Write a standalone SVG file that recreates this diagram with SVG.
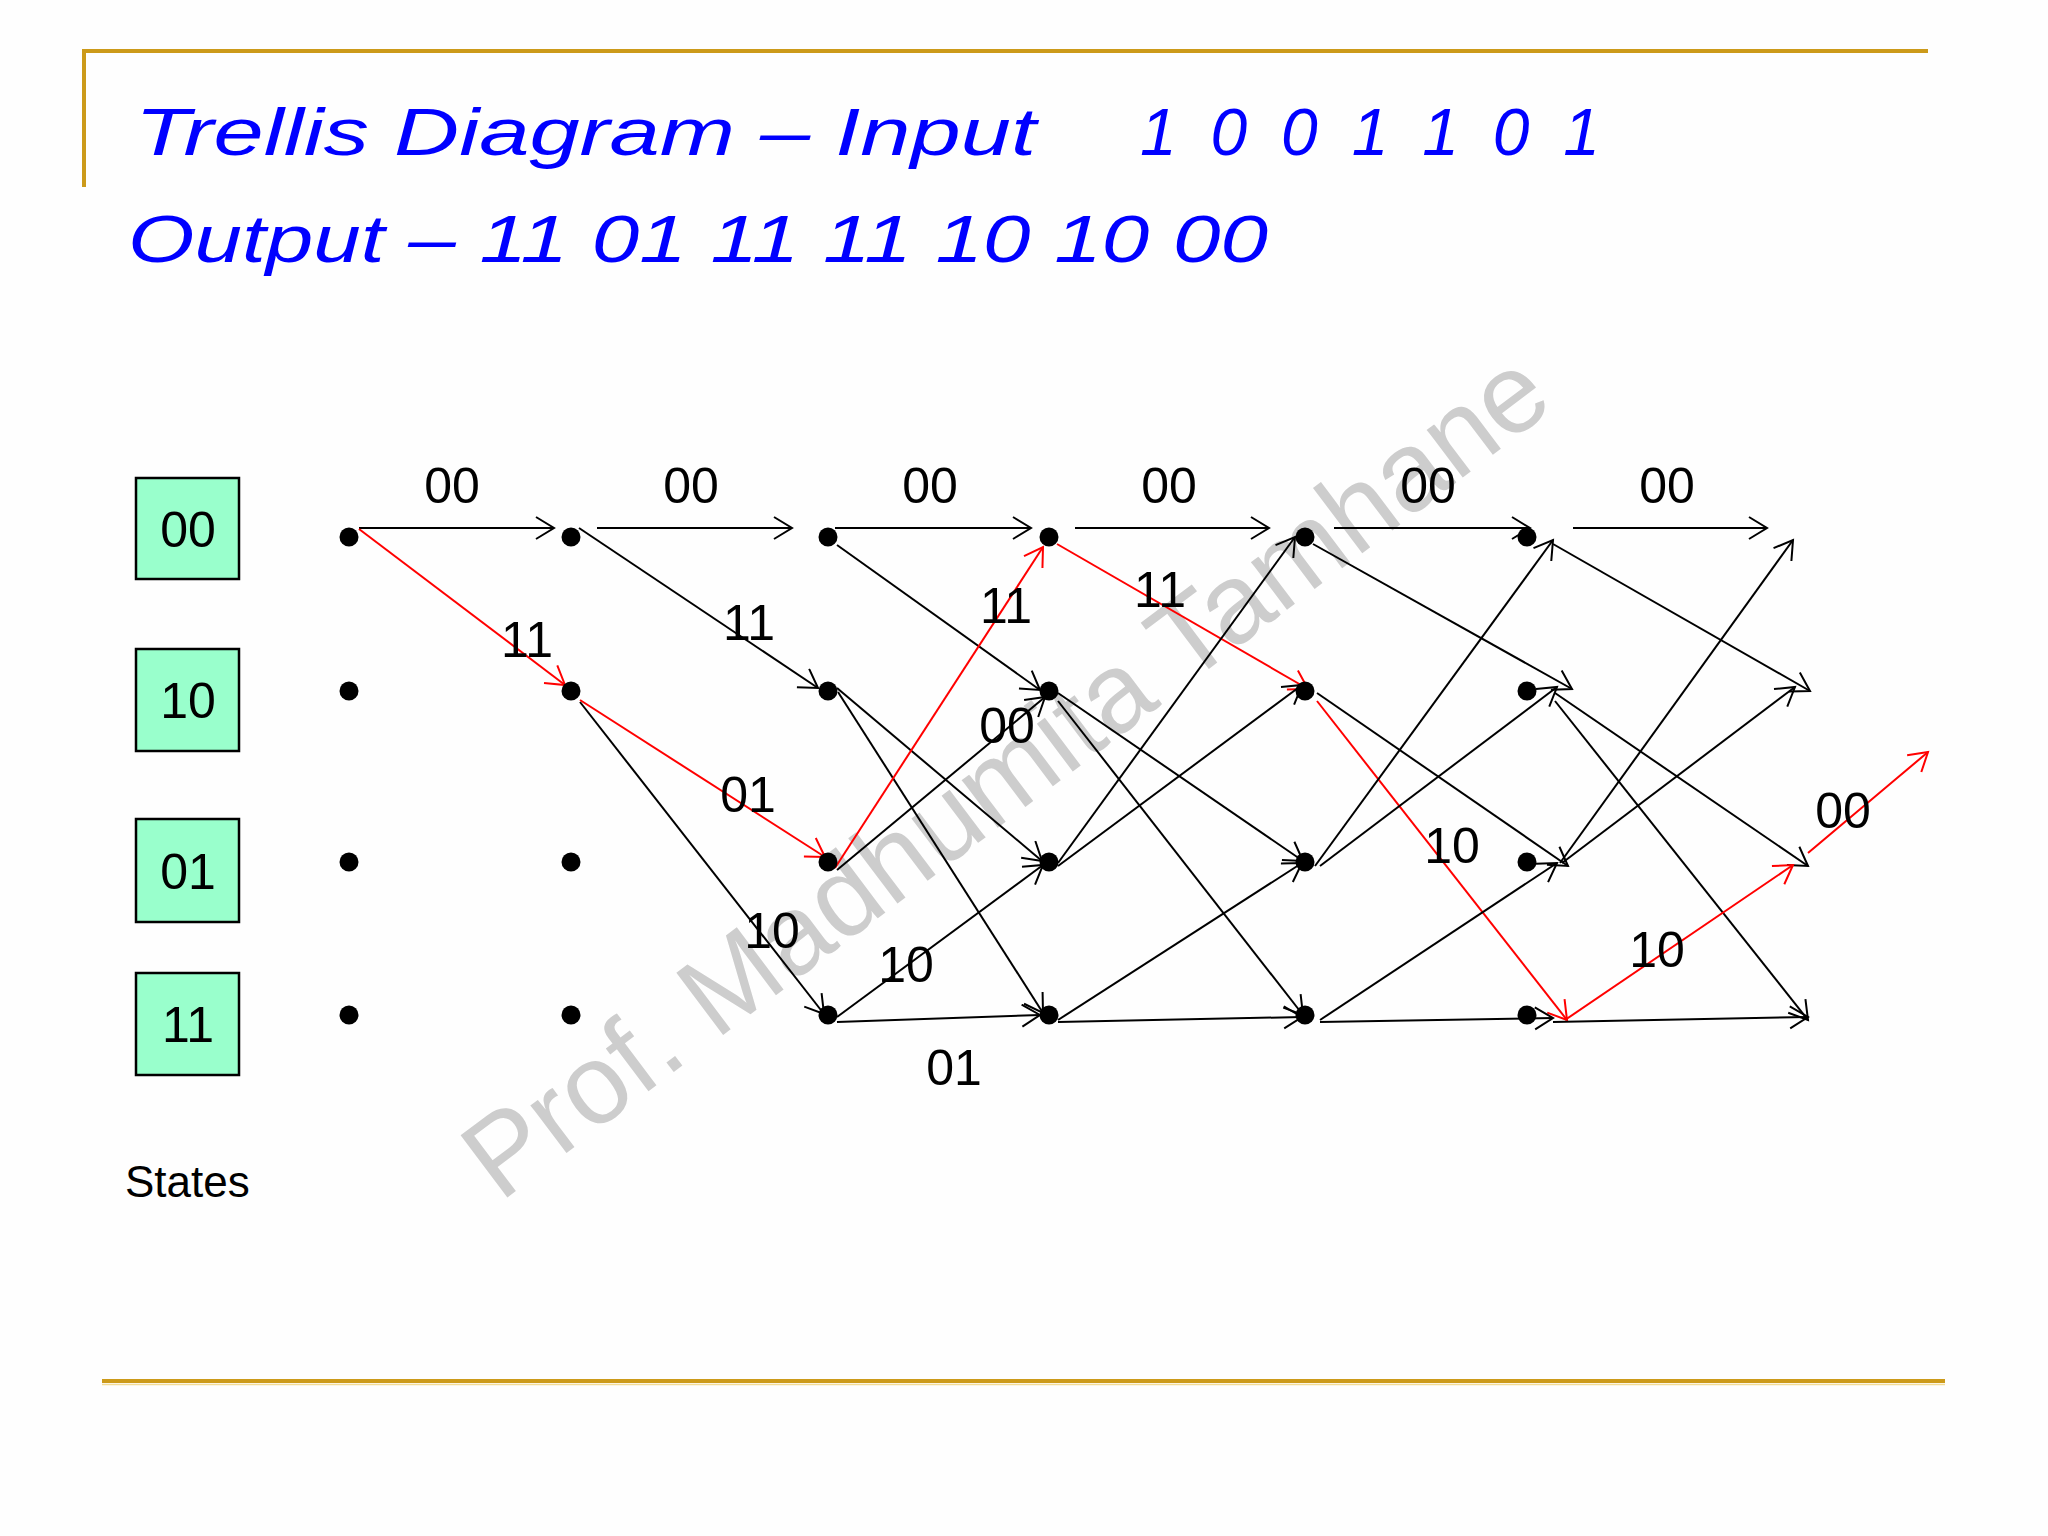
<svg xmlns="http://www.w3.org/2000/svg" width="2048" height="1536" viewBox="0 0 2048 1536">
<defs>
<marker id="ah" markerWidth="30" markerHeight="30" refX="21" refY="12" orient="auto" markerUnits="userSpaceOnUse"><path d="M3,1 L21,12 L3,23" fill="none" stroke="#000" stroke-width="2"/></marker>
<marker id="ahr" markerWidth="30" markerHeight="30" refX="21" refY="12" orient="auto" markerUnits="userSpaceOnUse"><path d="M3,1 L21,12 L3,23" fill="none" stroke="#f00" stroke-width="2"/></marker>
<style>
.title{font-family:"Liberation Sans",Arial,sans-serif;font-style:italic;font-size:66px;fill:#0000ff}
.lbl{font-family:"Liberation Sans",Arial,sans-serif;font-size:50px;text-anchor:middle;fill:#000}
.box{fill:#99ffcc;stroke:#000;stroke-width:2.5}
.dot{fill:#000}
.e{stroke:#000;stroke-width:2;fill:none;marker-end:url(#ah)}
.r{stroke:#f00;stroke-width:2;fill:none;marker-end:url(#ahr)}
.gold{stroke:#cc9a1a;stroke-width:4;fill:none}
.wm{font-family:"Liberation Sans",Arial,sans-serif;font-size:113px;fill:#cdcdcd}
</style>
</defs>
<rect width="2048" height="1536" fill="#fefefe"/>
<g id="frame">
<line class="gold" x1="84" y1="51" x2="1928" y2="51"/>
<line class="gold" x1="84" y1="49" x2="84" y2="187"/>
<line class="gold" x1="102" y1="1381" x2="1945" y2="1381"/>
<line x1="102" y1="1384.5" x2="1945" y2="1384.5" stroke="#f3dc96" stroke-width="1.5"/>
</g>
<g id="title">
<text class="title" x="135" y="155" textLength="901" lengthAdjust="spacingAndGlyphs">Trellis Diagram – Input</text>
<text class="title" x="1140" y="155" textLength="460" lengthAdjust="spacing">1 0 0 1 1 0 1</text>
<text class="title" x="128" y="262" textLength="1140" lengthAdjust="spacingAndGlyphs">Output – 11 01 11 11 10 10 00</text>
</g>
<text class="wm" transform="translate(500,1203) rotate(-37)">Prof. Madhumita Tamhane</text>
<g id="states">
<g id="state-00"><rect class="box" x="136" y="478" width="103" height="101"/><text class="lbl" x="188" y="547">00</text></g>
<g id="state-10"><rect class="box" x="136" y="649" width="103" height="102"/><text class="lbl" x="188" y="718">10</text></g>
<g id="state-01"><rect class="box" x="136" y="819" width="103" height="103"/><text class="lbl" x="188" y="889">01</text></g>
<g id="state-11"><rect class="box" x="136" y="973" width="103" height="102"/><text class="lbl" x="188" y="1042">11</text></g>
<text id="states-label" x="125" y="1197" font-family="Liberation Sans, Arial, sans-serif" font-size="44" fill="#000">States</text>
</g>
<g id="connectors">
<line class="e" x1="359" y1="528" x2="554" y2="528"/>
<line class="r" x1="359" y1="529" x2="565" y2="685"/>
<line class="e" x1="597" y1="528" x2="792" y2="528"/>
<line class="e" x1="579" y1="528" x2="818" y2="688"/>
<line class="r" x1="580" y1="700" x2="825" y2="857"/>
<line class="e" x1="580" y1="702" x2="824" y2="1014"/>
<line class="e" x1="835" y1="528" x2="1031" y2="528"/>
<line class="e" x1="837" y1="545" x2="1040" y2="690"/>
<line class="e" x1="837" y1="688" x2="1042" y2="861"/>
<line class="e" x1="838" y1="692" x2="1043" y2="1013"/>
<line class="r" x1="835" y1="868" x2="1043" y2="547"/>
<line class="e" x1="837" y1="870" x2="1045" y2="697"/>
<line class="e" x1="837" y1="1017" x2="1043" y2="865"/>
<line class="e" x1="837" y1="1022" x2="1040" y2="1015"/>
<line class="e" x1="1075" y1="528" x2="1269" y2="528"/>
<line class="r" x1="1057" y1="544" x2="1308" y2="689"/>
<line class="e" x1="1058" y1="693" x2="1303" y2="861"/>
<line class="e" x1="1058" y1="701" x2="1303" y2="1015"/>
<line class="e" x1="1058" y1="863" x2="1295" y2="537"/>
<line class="e" x1="1058" y1="866" x2="1302" y2="685"/>
<line class="e" x1="1058" y1="1020" x2="1302" y2="863"/>
<line class="e" x1="1058" y1="1022" x2="1302" y2="1017"/>
<line class="e" x1="1334" y1="528" x2="1530" y2="528"/>
<line class="e" x1="1313" y1="544" x2="1572" y2="689"/>
<line class="e" x1="1317" y1="693" x2="1568" y2="866"/>
<line class="r" x1="1317" y1="701" x2="1567" y2="1020"/>
<line class="e" x1="1315" y1="866" x2="1553" y2="540"/>
<line class="e" x1="1320" y1="866" x2="1557" y2="687"/>
<line class="e" x1="1320" y1="1020" x2="1557" y2="863"/>
<line class="e" x1="1320" y1="1022" x2="1553" y2="1018"/>
<line class="e" x1="1573" y1="528" x2="1767" y2="528"/>
<line class="e" x1="1553" y1="544" x2="1810" y2="691"/>
<line class="e" x1="1555" y1="693" x2="1808" y2="866"/>
<line class="e" x1="1555" y1="701" x2="1808" y2="1020"/>
<line class="e" x1="1560" y1="863" x2="1793" y2="540"/>
<line class="e" x1="1562" y1="863" x2="1795" y2="687"/>
<line class="r" x1="1565" y1="1020" x2="1793" y2="865"/>
<line class="e" x1="1553" y1="1022" x2="1808" y2="1017"/>
<line class="r" x1="1808" y1="853" x2="1928" y2="752"/>
</g>
<g id="dots">
<g id="n0-00"><circle class="dot" cx="349" cy="537" r="9.5"/></g>
<g id="n0-10"><circle class="dot" cx="349" cy="691" r="9.5"/></g>
<g id="n0-01"><circle class="dot" cx="349" cy="862" r="9.5"/></g>
<g id="n0-11"><circle class="dot" cx="349" cy="1015" r="9.5"/></g>
<g id="n1-00"><circle class="dot" cx="571" cy="537" r="9.5"/></g>
<g id="n1-10"><circle class="dot" cx="571" cy="691" r="9.5"/></g>
<g id="n1-01"><circle class="dot" cx="571" cy="862" r="9.5"/></g>
<g id="n1-11"><circle class="dot" cx="571" cy="1015" r="9.5"/></g>
<g id="n2-00"><circle class="dot" cx="828" cy="537" r="9.5"/></g>
<g id="n2-10"><circle class="dot" cx="828" cy="691" r="9.5"/></g>
<g id="n2-01"><circle class="dot" cx="828" cy="862" r="9.5"/></g>
<g id="n2-11"><circle class="dot" cx="828" cy="1015" r="9.5"/></g>
<g id="n3-00"><circle class="dot" cx="1049" cy="537" r="9.5"/></g>
<g id="n3-10"><circle class="dot" cx="1049" cy="691" r="9.5"/></g>
<g id="n3-01"><circle class="dot" cx="1049" cy="862" r="9.5"/></g>
<g id="n3-11"><circle class="dot" cx="1049" cy="1015" r="9.5"/></g>
<g id="n4-00"><circle class="dot" cx="1305" cy="537" r="9.5"/></g>
<g id="n4-10"><circle class="dot" cx="1305" cy="691" r="9.5"/></g>
<g id="n4-01"><circle class="dot" cx="1305" cy="862" r="9.5"/></g>
<g id="n4-11"><circle class="dot" cx="1305" cy="1015" r="9.5"/></g>
<g id="n5-00"><circle class="dot" cx="1527" cy="537" r="9.5"/></g>
<g id="n5-10"><circle class="dot" cx="1527" cy="691" r="9.5"/></g>
<g id="n5-01"><circle class="dot" cx="1527" cy="862" r="9.5"/></g>
<g id="n5-11"><circle class="dot" cx="1527" cy="1015" r="9.5"/></g>
</g>
<g id="labels">
<text class="lbl" x="452" y="503">00</text>
<text class="lbl" x="691" y="503">00</text>
<text class="lbl" x="930" y="503">00</text>
<text class="lbl" x="1169" y="503">00</text>
<text class="lbl" x="1428" y="503">00</text>
<text class="lbl" x="1667" y="503">00</text>
<text class="lbl" x="527" y="657">11</text>
<text class="lbl" x="749" y="640">11</text>
<text class="lbl" x="748" y="812">01</text>
<text class="lbl" x="772" y="948">10</text>
<text class="lbl" x="1006" y="623">11</text>
<text class="lbl" x="1007" y="743">00</text>
<text class="lbl" x="906" y="982">10</text>
<text class="lbl" x="954" y="1085">01</text>
<text class="lbl" x="1160" y="607">11</text>
<text class="lbl" x="1452" y="863">10</text>
<text class="lbl" x="1657" y="967">10</text>
<text class="lbl" x="1843" y="828">00</text>
</g>
</svg>
